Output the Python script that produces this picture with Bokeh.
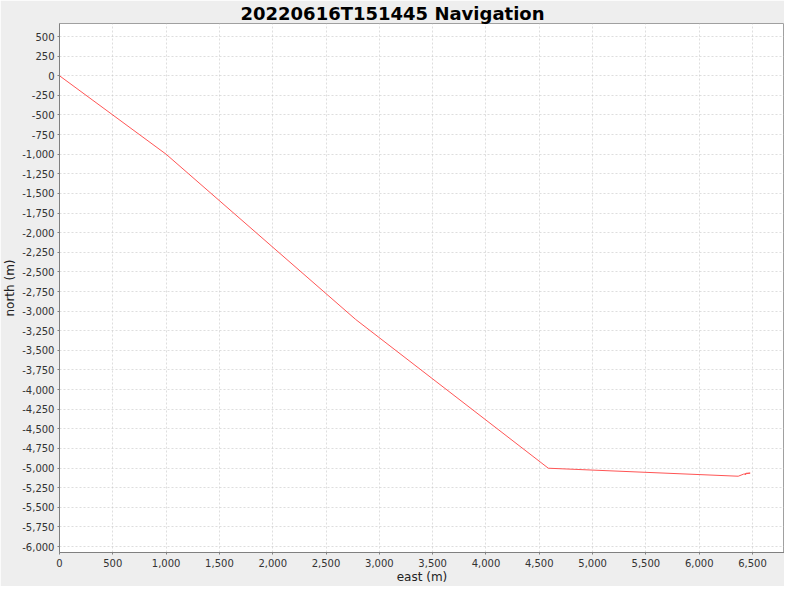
from bokeh.plotting import figure
from bokeh.models import Range1d, FixedTicker, NumeralTickFormatter, ColumnDataSource
from bokeh.embed import file_html
from bokeh.resources import INLINE

# Track data (metres)
east = [0, 1000, 2778, 4585, 6366, 6415, 6478, 6440, 6432, 6436]
north = [0, -1000, -3106, -5002, -5104, -5078, -5064, -5066, -5085, -5070]

x_ticks = [0, 500, 1000, 1500, 2000, 2500, 3000, 3500, 4000, 4500, 5000, 5500, 6000, 6500]
y_ticks = [-6000, -5750, -5500, -5250, -5000, -4750, -4500, -4250, -4000, -3750, -3500,
           -3250, -3000, -2750, -2500, -2250, -2000, -1750, -1500, -1250, -1000, -750,
           -500, -250, 0, 250, 500]

title_text = "20220616T151445 Navigation"
x_label = "east (m)"
y_label = "north (m)"

FONT = "DejaVu Sans"

p = figure(frame_width=725, frame_height=529,
           min_border_left=59, min_border_right=0, min_border_top=18, min_border_bottom=32,
           x_range=Range1d(0, 6800), y_range=Range1d(-6076, 666),
           output_backend="svg", toolbar_location=None)

p.background_fill_color = "white"
p.border_fill_color = "#EEEEEE"
p.outline_line_color = "#A0A0A0"
p.outline_line_width = 1

p.title.text = title_text
p.title.text_font = FONT
p.title.text_font_size = "18px"
p.title.text_font_style = "bold"
p.title.text_color = "black"
p.title.align = "left"
p.title.offset = 181
p.title.standoff = 0

src = ColumnDataSource(data=dict(x=east, y=north))
p.line("x", "y", source=src, line_color="#FF5555", line_width=1)

for ax, ticks in ((p.xaxis[0], x_ticks), (p.yaxis[0], y_ticks)):
    ax.ticker = FixedTicker(ticks=ticks)
    ax.formatter = NumeralTickFormatter(format="0,0")
    ax.axis_line_color = "#808080"
    ax.major_tick_line_color = "#808080"
    ax.major_tick_in = 0
    ax.major_tick_out = 2
    ax.minor_tick_line_color = None
    ax.major_label_text_font = FONT
    ax.major_label_text_font_size = "10px"
    ax.major_label_text_color = "#333333"
    ax.axis_label_text_font = FONT
    ax.axis_label_text_font_size = "12px"
    ax.axis_label_text_font_style = "normal"
    ax.axis_label_text_color = "#222222"

p.xaxis.axis_label = x_label
p.yaxis.axis_label = y_label
p.xaxis.major_label_standoff = 4
p.xaxis.axis_label_standoff = 0
p.yaxis.major_label_standoff = 3
p.yaxis.axis_label_standoff = 2

for g in (p.xgrid[0], p.ygrid[0]):
    g.grid_line_color = "#C8C8C8"
    g.grid_line_width = 0.6
    g.grid_line_dash = "2 2"
p.xgrid.ticker = FixedTicker(ticks=x_ticks)
p.ygrid.ticker = FixedTicker(ticks=y_ticks)

open("out.html", "w").write(file_html(p, INLINE))
